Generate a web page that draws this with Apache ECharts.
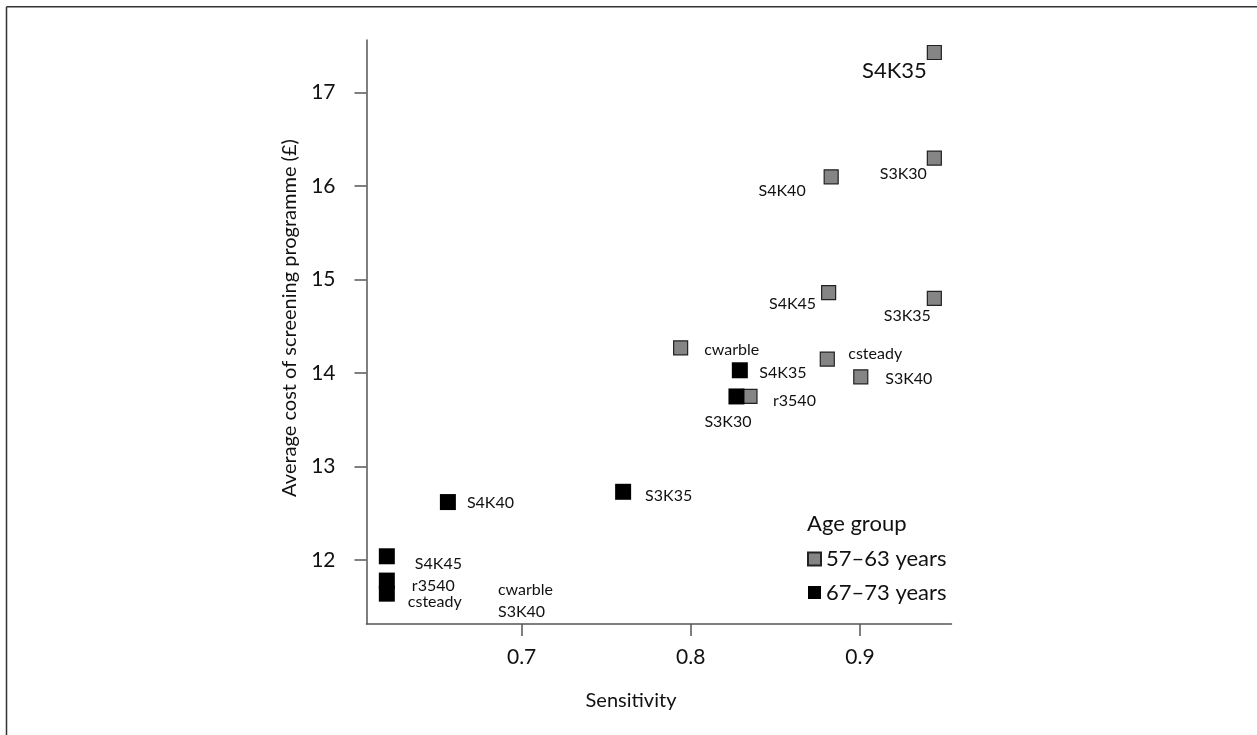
<!DOCTYPE html>
<html>
<head>
<meta charset="utf-8">
<title>Sensitivity vs average cost of screening programme</title>
<script src="https://cdn.jsdelivr.net/npm/echarts@6/dist/echarts.min.js"></script>
<style>
  html, body { margin: 0; padding: 0; background: #fff; }
  #chart { width: 1257px; height: 735px; }
</style>
</head>
<body>
<div id="chart"></div>
<script>
// Tick values
const sensitivityTicks = [0.7, 0.8, 0.9];
const costTicks = [12, 13, 14, 15, 16, 17];

// Age group 57–63 years
const strategies57 = ['S4K35', 'S3K30', 'S4K40', 'S4K45', 'S3K35', 'cwarble', 'csteady', 'S3K40', 'r3540'];
const sensitivity57 = [0.944, 0.944, 0.883, 0.8815, 0.944, 0.794, 0.8807, 0.9005, 0.835];
const cost57 = [17.43, 16.30, 16.10, 14.86, 14.80, 14.27, 14.15, 13.96, 13.75];

// Age group 67–73 years
const strategies67 = ['S4K35', 'S3K30', 'S3K35', 'S4K40', 'S4K45', 'r3540', 'csteady'];
const sensitivity67 = [0.829, 0.827, 0.760, 0.6564, 0.6203, 0.6203, 0.6203];
const cost67 = [14.03, 13.75, 12.73, 12.62, 12.04, 11.78, 11.64];

// 67–73 strategies whose cost lies below the plotted range: only their names are shown
const offAxis67 = ['cwarble', 'S3K40'];
const offAxisSensitivity67 = [0.686, 0.686];
const offAxisCost67 = [11.676, 11.446];

// Label placement per point: [align, dx, dy, fontSize]
const labelPlace57 = {
  S4K35: ['right', -7.5, 18, 22],
  S3K30: ['right', -7.5, 16, 16],
  S4K40: ['right', -25.5, 14.5, 16],
  S4K45: ['right', -12.5, 11, 16],
  S3K35: ['right', -3.5, 18, 16],
  cwarble: ['left', 23.5, 1.5, 16],
  csteady: ['left', 21, -5, 16],
  S3K40: ['left', 24.5, 2.5, 16],
  r3540: ['left', 23, 4.5, 16]
};
const labelPlace67 = {
  S4K35: ['left', 19.5, 2.5, 16],
  S3K30: ['center', -8.5, 25, 16],
  S3K35: ['left', 22, 4, 16],
  S4K40: ['left', 19, 1, 16],
  S4K45: ['left', 28, 8, 16],
  r3540: ['left', 25, 5.5, 16],
  csteady: ['left', 21, 8.5, 16]
};

const FONT = 'Lato, "Open Sans", sans-serif';
const INK = '#111';

function buildPoints(names, xs, ys, place) {
  return names.map((n, i) => {
    const p = place[n];
    return {
      name: n,
      value: [xs[i], ys[i]],
      label: {
        show: true,
        formatter: n,
        position: 'inside',
        align: p[0],
        verticalAlign: 'middle',
        offset: [p[1], p[2]],
        fontSize: p[3],
        fontFamily: FONT,
        color: INK
      }
    };
  });
}

const chart = echarts.init(document.getElementById('chart'), null, { renderer: 'canvas' });

chart.setOption({
  animation: false,
  backgroundColor: '#fff',
  grid: { left: 366.5, right: 305.5, top: 40, bottom: 111, containLabel: false },
  xAxis: {
    type: 'value',
    min: 0.60828,
    max: 0.95414,
    splitLine: { show: false },
    axisLine: { onZero: false, lineStyle: { color: '#555', width: 1.5 } },
    axisTick: { show: true, length: 12, customValues: sensitivityTicks, lineStyle: { color: '#555', width: 1.5 } },
    axisLabel: {
      customValues: sensitivityTicks,
      margin: 23,
      fontSize: 21,
      fontFamily: FONT,
      color: INK,
      formatter: v => v.toFixed(1)
    }
  },
  yAxis: {
    type: 'value',
    min: 11.3155,
    max: 17.5636,
    splitLine: { show: false },
    axisLine: { onZero: false, lineStyle: { color: '#555', width: 1.5 } },
    axisTick: { show: true, length: 12, customValues: costTicks, lineStyle: { color: '#555', width: 1.5 } },
    axisLabel: {
      customValues: costTicks,
      margin: 31,
      fontSize: 21,
      fontFamily: FONT,
      color: INK
    }
  },
  legend: {
    orient: 'vertical',
    left: 802,
    top: 543,
    padding: 5,
    itemWidth: 13,
    itemHeight: 13,
    itemGap: 11.5,
    icon: 'rect',
    textStyle: { fontSize: 22, lineHeight: 22, fontFamily: FONT, color: INK },
    data: ['57–63 years', '67–73 years']
  },
  graphic: [
    // frame
    { type: 'line', shape: { x1: 6.5, y1: 6.75, x2: 1257, y2: 6.75 }, style: { stroke: '#333', lineWidth: 1.5 } },
    { type: 'line', shape: { x1: 6.5, y1: 6.75, x2: 6.5, y2: 735 }, style: { stroke: '#333', lineWidth: 1.5 } },
    // axis titles
    { type: 'text', x: 631, y: 701, style: { text: 'Sensitivity', fontSize: 20, fontFamily: FONT, fill: INK, textAlign: 'center', textVerticalAlign: 'middle' } },
    { type: 'text', x: 290, y: 318, rotation: Math.PI / 2, style: { text: 'Average cost of screening programme (£)', fontSize: 20, fontFamily: FONT, fill: INK, textAlign: 'center', textVerticalAlign: 'middle' } },
    // legend heading
    { type: 'text', x: 807, y: 524, style: { text: 'Age group', fontSize: 22, fontFamily: FONT, fill: INK, textAlign: 'left', textVerticalAlign: 'middle' } }
  ],
  series: [
    {
      name: '57–63 years',
      type: 'scatter',
      symbol: 'rect',
      symbolSize: 14,
      itemStyle: { color: '#858585', borderColor: '#222', borderWidth: 1.2, opacity: 1 },
      emphasis: { disabled: true },
      data: buildPoints(strategies57, sensitivity57, cost57, labelPlace57)
    },
    {
      name: '67–73 years',
      type: 'scatter',
      symbol: 'rect',
      symbolSize: 16,
      itemStyle: { color: '#000', opacity: 1 },
      emphasis: { disabled: true },
      data: buildPoints(strategies67, sensitivity67, cost67, labelPlace67)
    },
    {
      name: 'off-axis names',
      type: 'scatter',
      symbolSize: 0,
      silent: true,
      itemStyle: { color: '#000', opacity: 1 },
      emphasis: { disabled: true },
      data: offAxis67.map((n, i) => ({
        name: n,
        value: [offAxisSensitivity67[i], offAxisCost67[i]],
        label: {
          show: true,
          formatter: n,
          position: 'inside',
          align: 'left',
          verticalAlign: 'middle',
          fontSize: 16,
          fontFamily: FONT,
          color: INK
        }
      }))
    }
  ]
});
</script>
</body>
</html>
